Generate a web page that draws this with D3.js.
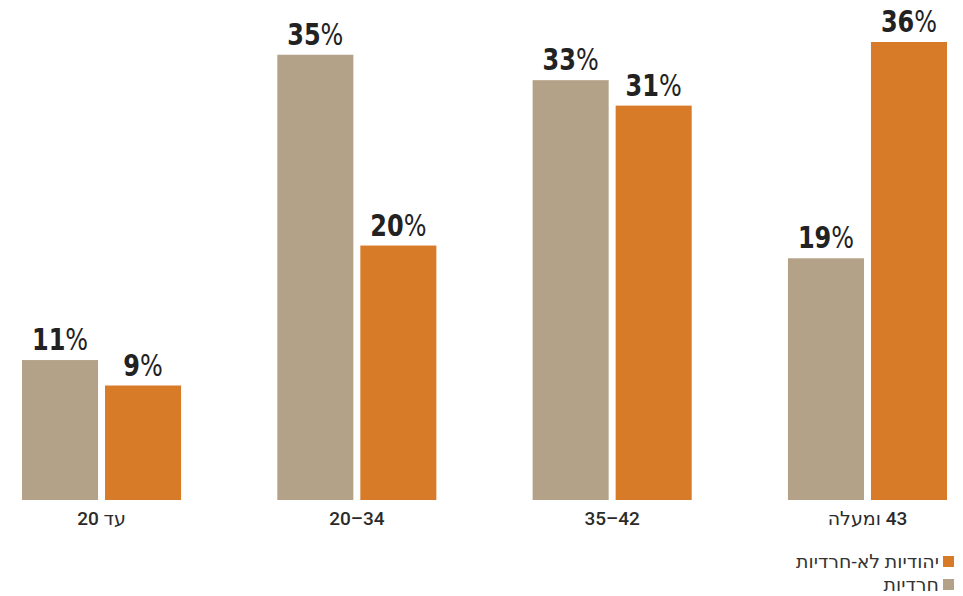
<!DOCTYPE html>
<html><head><meta charset="utf-8">
<script src="https://cdn.jsdelivr.net/npm/d3@7"></script>
<style>
html,body{margin:0;padding:0;background:#fff;}
#wrap{position:relative;width:963px;height:596px;}
svg{display:block;position:absolute;left:0;top:0;}
.cat{position:absolute;white-space:nowrap;transform:translateX(-50%);font-family:Roboto,'DejaVu Sans',sans-serif;font-weight:500;font-size:19px;line-height:22px;color:#2a2a2a;}
</style></head>
<body>
<div id="wrap"><svg id="chart" width="963" height="596"></svg></div>
<script>
const categories = ["עד 20", "20–34", "35–42", "43 ומעלה"];
const seriesNames = ["חרדיות", "יהודיות לא-חרדיות"];
const haredi = [11, 35, 33, 19];
const nonHaredi = [9, 20, 31, 36];
const colors = ["#B3A288", "#D77B28"];

const svg = d3.select("#chart");
const baseY = 500;
const x = d3.scaleBand().domain(categories).range([22, 947]).paddingInner(0.377).paddingOuter(0);
const y = d3.scaleLinear().domain([0, 36]).range([baseY, 42]);
const inner = d3.scaleBand().domain([0, 1]).range([0, x.bandwidth()]).paddingInner(0.084);

const data = categories.map((c, i) => ({cat: c, vals: [haredi[i], nonHaredi[i]]}));

const g = svg.selectAll("g.grp").data(data).join("g").attr("class", "grp")
  .attr("transform", d => `translate(${x(d.cat)},0)`);

g.selectAll("rect").data(d => d.vals.map((v, k) => ({v, k}))).join("rect")
  .attr("x", d => inner(d.k)).attr("width", inner.bandwidth())
  .attr("y", d => y(d.v)).attr("height", d => baseY - y(d.v))
  .attr("fill", d => colors[d.k]);

const lab = g.selectAll("text.val").data(d => d.vals.map((v, k) => ({v, k}))).join("text")
  .attr("class", "val")
  .attr("transform", d => `translate(${inner(d.k) + inner.bandwidth() / 2},${y(d.v) - 10}) scale(0.86,1)`)
  .attr("text-anchor", "middle")
  .attr("fill", "#222")
  .style("font-family", "'DejaVu Sans Condensed', sans-serif")
  .style("font-size", "31px");
lab.append("tspan").style("font-weight", "bold").text(d => d.v);
lab.append("tspan").style("font-weight", "normal").text("%");

// category labels (HTML for reliable bidi handling)
const hasHeb = s => /[\u0590-\u05FF]/.test(s);
d3.select("#wrap").selectAll("div.cat").data(categories).join("div")
  .attr("class", "cat")
  .attr("dir", d => hasHeb(d) ? "rtl" : "ltr")
  .style("left", d => (x(d) + x.bandwidth() / 2) + "px")
  .style("top", "508px")
  .text(d => d);

// legend
const legend = [ {name: seriesNames[1], color: colors[1]}, {name: seriesNames[0], color: colors[0]} ];
const lg = svg.selectAll("g.leg").data(legend).join("g").attr("class", "leg")
  .attr("transform", (d, i) => `translate(0,${i * 23})`);
lg.append("rect").attr("x", 943).attr("y", 556).attr("width", 11).attr("height", 11).attr("fill", d => d.color);
lg.append("text").attr("x", 939).attr("y", 568)
  .attr("direction", "rtl")
  .style("unicode-bidi", "embed")
  .attr("text-anchor", "start")
  .attr("fill", "#333")
  .style("font-family", "Roboto, 'Noto Sans', 'DejaVu Sans', sans-serif")
  .style("font-size", "19px")
  .text(d => d.name);
</script>
</body></html>
